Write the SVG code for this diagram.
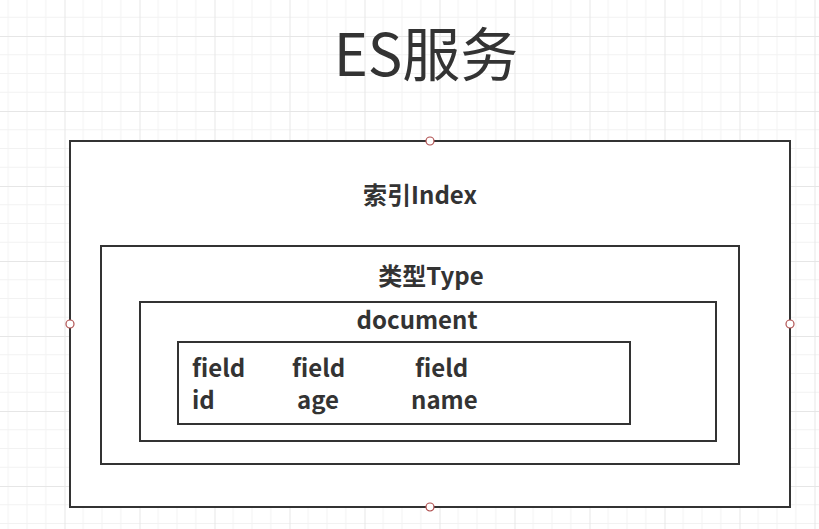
<svg xmlns="http://www.w3.org/2000/svg" width="819" height="529" viewBox="0 0 819 529">
  <style>
    .box { fill: #ffffff; stroke: #333333; stroke-width: 2; }
    .lbl { font-family: "Noto Sans CJK SC", "Noto Sans", sans-serif; font-weight: bold; fill: #333333; font-size: 24px; }
    .title { font-family: "Noto Sans CJK SC", "Noto Sans", sans-serif; font-weight: normal; fill: #333333; font-size: 58px; }
    .handle { fill: #ffffff; stroke: #b05050; stroke-width: 1.2; }
  </style>
  <defs>
    <pattern id="grid" patternUnits="userSpaceOnUse" x="64.5" y="36" width="75" height="75">
      <path d="M18.75 0V75M37.5 0V75M56.25 0V75M0 18.75H75M0 37.5H75M0 56.25H75" stroke="#f2f2f2" stroke-width="1" fill="none"/>
      <path d="M0.5 0V75M0 0.5H75" stroke="#e6e6e6" stroke-width="1" fill="none"/>
    </pattern>
  </defs>
  <rect width="819" height="529" fill="#ffffff"/>
  <rect width="819" height="529" fill="url(#grid)"/>

  <g id="title">
    <text class="title" x="426" y="76" text-anchor="middle">ES服务</text>
  </g>

  <g id="index">
    <rect class="box" x="70" y="141" width="720" height="366"/>
    <text class="lbl" x="420" y="204" text-anchor="middle">索引Index</text>
  </g>

  <g id="type">
    <rect class="box" x="101" y="246" width="638" height="218"/>
    <text class="lbl" x="431" y="285" text-anchor="middle">类型Type</text>
  </g>

  <g id="document">
    <rect class="box" x="140" y="302" width="576" height="139"/>
    <text class="lbl" x="417" y="329" text-anchor="middle">document</text>
  </g>

  <g id="fields">
    <rect class="box" x="178" y="342" width="452" height="82"/>
    <text class="lbl">
      <tspan x="192" y="377">field</tspan>
      <tspan x="192" y="409">id</tspan>
    </text>
    <text class="lbl">
      <tspan x="292" y="377">field</tspan>
      <tspan x="297" y="409">age</tspan>
    </text>
    <text class="lbl">
      <tspan x="415" y="377">field</tspan>
      <tspan x="411" y="409">name</tspan>
    </text>
  </g>

  <g id="connectors"></g>

  <g id="selection-handles">
    <circle class="handle" cx="430" cy="141" r="4"/>
    <circle class="handle" cx="70" cy="324" r="4"/>
    <circle class="handle" cx="790" cy="324" r="4"/>
    <circle class="handle" cx="430" cy="507" r="4"/>
  </g>
</svg>
